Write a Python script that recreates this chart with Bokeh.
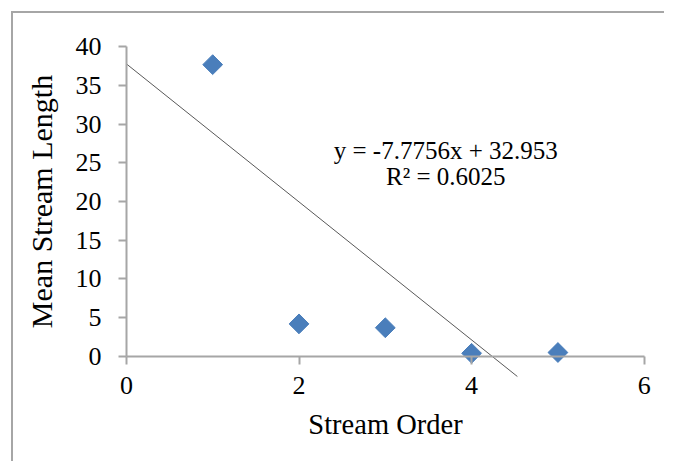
import math
from bokeh.plotting import figure
from bokeh.models import Range1d, FixedTicker, Label, ColumnDataSource
from bokeh.embed import file_html
from bokeh.resources import INLINE

# ---- data ----
stream_order = [1, 2, 3, 4, 5]
mean_length = [37.7, 4.2, 3.7, 0.4, 0.5]

# trend line as drawn in the reference (end points)
trend_x = [0.0, 4.53]
trend_y = [37.8, -2.6]

x_ticks = [0, 2, 4, 6]
y_ticks = [0, 5, 10, 15, 20, 25, 30, 35, 40]

equation_text = "y = -7.7756x + 32.953"
r2_text = "R\u00b2 = 0.6025"

FONT = "Liberation Serif"
AXIS_GREY = "#a6a6a6"

p = figure(width=653, height=450,
           x_range=Range1d(-1.25, 6.2), y_range=Range1d(-11, 42.5),
           output_backend="svg", toolbar_location=None,
           min_border_left=5, min_border_top=14,
           min_border_right=5, min_border_bottom=22)
p.styles = {"margin-left": "11px", "margin-top": "11px",
            "border-left": "2px solid #a6a6a6", "border-top": "2px solid #a6a6a6"}

p.outline_line_color = None
p.xgrid.visible = False
p.ygrid.visible = False
p.background_fill_color = "white"
p.border_fill_color = "white"

src = ColumnDataSource(dict(x=stream_order, y=mean_length))
p.scatter("x", "y", source=src, marker="square", angle=math.pi / 4, size=14,
          fill_color="#4a7ebb", line_color="#4a7ebb")

p.line(trend_x, trend_y, line_color="#595959", line_width=1)

# axes (both drawn at the data origin)
xa = p.xaxis[0]
xa.ticker = FixedTicker(ticks=x_ticks)
xa.bounds = (0, 6)
xa.fixed_location = 0
xa.axis_label = "Stream Order"
ya = p.yaxis[0]
ya.ticker = FixedTicker(ticks=y_ticks)
ya.bounds = (0, 40)
ya.fixed_location = 0
ya.axis_label = "Mean Stream Length"

for ax in (xa, ya):
    ax.axis_line_color = AXIS_GREY
    ax.axis_line_width = 2
    ax.major_tick_line_color = AXIS_GREY
    ax.major_tick_line_width = 2
    ax.major_tick_out = 8
    ax.major_tick_in = 0
    ax.minor_tick_line_color = None
    ax.major_label_text_font = FONT
    ax.major_label_text_font_size = "26px"
    ax.major_label_text_color = "black"
    ax.axis_label_text_font = FONT
    ax.axis_label_text_font_size = "28.5px"
    ax.axis_label_text_font_style = "normal"
    ax.axis_label_text_color = "black"

ya.axis_label_text_font_size = "30px"
xa.major_label_standoff = 13
xa.axis_label_standoff = 11
ya.major_label_standoff = 17
ya.axis_label_standoff = 15

# regression annotation
p.add_layout(Label(x=3.70, y=26.65, text=equation_text, text_font=FONT,
                   text_font_size="25px", text_align="center",
                   text_baseline="middle", text_color="black"))
p.add_layout(Label(x=3.70, y=23.3, text=r2_text, text_font=FONT,
                   text_font_size="25px", text_align="center",
                   text_baseline="middle", text_color="black"))

open("out.html", "w").write(file_html(p, INLINE))
